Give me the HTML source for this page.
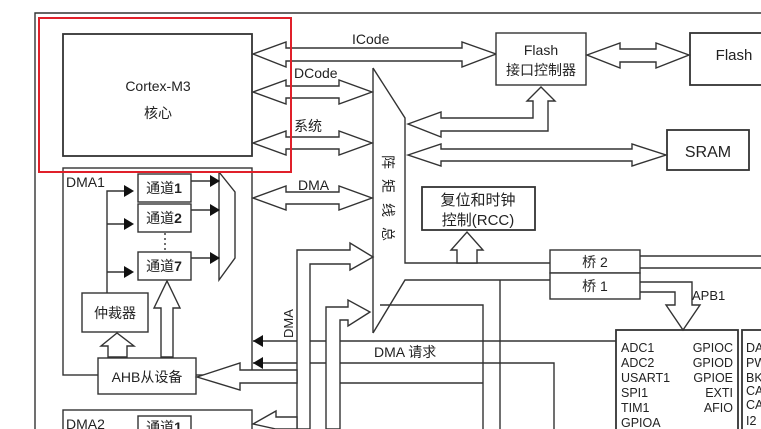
<!DOCTYPE html>
<html><head><meta charset="utf-8"><style>
html,body{margin:0;padding:0;background:#fff;}
svg{display:block;}
text{font-family:"Liberation Sans","Noto Sans CJK SC",sans-serif;fill:#222;}
</style></head><body>
<svg width="761" height="429" viewBox="0 0 761 429" xmlns="http://www.w3.org/2000/svg">
<g fill="none" stroke="#333" stroke-width="1.4">
<polyline points="35,429 35,13 761,13"/>
<rect x="63" y="34" width="189" height="122" stroke-width="1.8"/>
<polygon points="253,54 286,42 286,48 462,48 462,42 496,54 462,67 462,61 286,61 286,67" fill="#fff"/>
<polygon points="253,92 286,80 286,86 339,86 339,80 372,92 339,104 339,98 286,98 286,104" fill="#fff"/>
<polygon points="253,143 286,131 286,137 339,137 339,131 372,143 339,155 339,149 286,149 286,155" fill="#fff"/>
<polygon points="253,198 286,186 286,192 339,192 339,186 372,198 339,210 339,204 286,204 286,210" fill="#fff"/>
<polyline points="373,68 405,118 405,263 550,263"/>
<line x1="373" y1="68" x2="373" y2="333"/>
<polyline points="373,333 405,280 550,280"/>
<rect x="496" y="33" width="90" height="52" fill="#fff"/>
<rect x="690" y="33" width="80" height="52" fill="#fff" stroke-width="1.8"/>
<polygon points="587,55 620,43 620,49 656,49 656,43 689,55 656,68 656,62 620,62 620,68" fill="#fff"/>
<polygon points="408,124 441,112 441,118 533,118 533,101 527,101 541,87 555,101 548,101 548,131 441,131 441,137" fill="#fff"/>
<polygon points="408,155 441,144 441,149 632,149 632,144 666,155 632,166 632,161 441,161 441,166" fill="#fff"/>
<rect x="667" y="130" width="82" height="40" stroke-width="1.8"/>
<rect x="422" y="187" width="113" height="43" stroke-width="1.8"/>
<polygon points="457,263 457,250 451,250 467,232 483,250 477,250 477,263" fill="#fff"/>
<rect x="550" y="250" width="90" height="23" fill="#fff"/>
<rect x="550" y="273" width="90" height="26" fill="#fff"/>
<line x1="640" y1="256" x2="761" y2="256"/>
<line x1="640" y1="268" x2="761" y2="268"/>
<polyline points="640,282 692,282 692,305 700,305 683,330 666,305 675,305 675,292 640,292"/>
<rect x="616" y="330" width="122" height="110" stroke-width="1.8"/>
<rect x="742" y="330" width="30" height="110" stroke-width="1.8"/>
<polyline points="380,305 483,305 483,429"/>
<polyline points="500,429 500,280"/>
<polyline points="340,383 483,383"/>
<polyline points="253,363 554,363 554,429"/>
<line x1="253" y1="341" x2="616" y2="341"/>
<polygon points="297,429 297,250 350,250 350,243 373,257 350,270 350,264 310,264 310,429" fill="#fff"/>
<polygon points="326,429 326,307 348,307 348,300 370,312 348,326 348,320 340,320 340,429" fill="#fff"/>
<rect x="63" y="168" width="189" height="207"/>
<rect x="138" y="174" width="53" height="28" fill="#fff"/>
<rect x="138" y="204" width="53" height="28" fill="#fff"/>
<rect x="138" y="252" width="53" height="28" fill="#fff"/>
<line x1="165" y1="233" x2="165" y2="251" stroke-dasharray="2,3"/>
<polyline points="219,172 235,192 235,258 219,280 219,172"/>
<line x1="191" y1="181" x2="210" y2="181"/><line x1="191" y1="210" x2="210" y2="210"/><line x1="191" y1="258" x2="210" y2="258"/>
<polyline points="107,293 107,191 125,191"/>
<line x1="107" y1="224" x2="125" y2="224"/><line x1="107" y1="272" x2="125" y2="272"/>
<rect x="82" y="293" width="66" height="39" fill="#fff"/>
<rect x="98" y="358" width="98" height="36" fill="#fff"/>
<polygon points="108,357 108,346 101,346 117,333 134,346 127,346 127,357" fill="#fff"/>
<polygon points="161,357 161,308 154,308 167,281 180,308 173,308 173,357" fill="#fff"/>
<polygon points="197,377 240,363 240,370 297,370 297,383 240,383 240,390" fill="#fff"/>
<rect x="63" y="410" width="189" height="30" fill="#fff"/>
<rect x="138" y="416" width="53" height="24" fill="#fff"/>
<polygon points="253,424 276,411 276,417 297,417 297,429 276,429" fill="#fff"/>
</g>
<g fill="#111">
<polygon points="210,175 220,181 210,187"/><polygon points="210,204 220,210 210,216"/><polygon points="210,252 220,258 210,264"/>
<polygon points="124,185 134,191 124,197"/><polygon points="124,218 134,224 124,230"/><polygon points="124,266 134,272 124,278"/>
<polygon points="253,341 263,335 263,347"/><polygon points="253,363 263,357 263,369"/>
</g>
<rect x="39" y="18" width="252" height="154" fill="none" stroke="#e0202a" stroke-width="2"/>
<g font-size="14">
<text x="158" y="91" text-anchor="middle">Cortex-M3</text>
<text x="158" y="118" text-anchor="middle">核心</text>
<text x="352" y="44">ICode</text>
<text x="294" y="78">DCode</text>
<text x="294" y="131">系统</text>
<text x="298" y="190">DMA</text>
<text x="541" y="55" text-anchor="middle">Flash</text>
<text x="541" y="75" text-anchor="middle">接口控制器</text>
<text x="734" y="60" text-anchor="middle" font-size="15">Flash</text>
<text x="708" y="157" text-anchor="middle" font-size="16">SRAM</text>
<text x="478" y="205" text-anchor="middle" font-size="15">复位和时钟</text>
<text x="478" y="225" text-anchor="middle" font-size="15">控制(RCC)</text>
<text x="595" y="267" text-anchor="middle">桥 2</text>
<text x="595" y="291" text-anchor="middle">桥 1</text>
<text x="692" y="300" font-size="13">APB1</text>
<text x="374" y="357">DMA  请求</text>
<text x="66" y="187">DMA1</text>
<text x="164" y="193" text-anchor="middle">通道<tspan font-weight="bold">1</tspan></text>
<text x="164" y="223" text-anchor="middle">通道<tspan font-weight="bold">2</tspan></text>
<text x="164" y="271" text-anchor="middle">通道<tspan font-weight="bold">7</tspan></text>
<text x="115" y="318" text-anchor="middle">仲裁器</text>
<text x="147" y="382" text-anchor="middle">AHB从设备</text>
<text x="66" y="429">DMA2</text>
<text x="164" y="432" text-anchor="middle">通道<tspan font-weight="bold">1</tspan></text>
<text transform="translate(293,338) rotate(-90)" font-size="13">DMA</text>
<text transform="translate(383,155) rotate(90)" font-size="14" letter-spacing="10">阵矩线总</text>
</g>
<g font-size="12.5">
<text x="621" y="352">ADC1</text><text x="621" y="367">ADC2</text><text x="621" y="382">USART1</text>
<text x="621" y="397">SPI1</text><text x="621" y="412">TIM1</text><text x="621" y="427">GPIOA</text>
<g text-anchor="end"><text x="733" y="352">GPIOC</text><text x="733" y="367">GPIOD</text><text x="733" y="382">GPIOE</text>
<text x="733" y="397">EXTI</text><text x="733" y="412">AFIO</text></g>
<text x="746" y="352">DA</text><text x="746" y="367">PW</text><text x="746" y="382">BK</text>
<text x="746" y="395">CA</text><text x="746" y="409">CA</text><text x="746" y="425">I2</text>
</g>
</svg>
</body></html>
